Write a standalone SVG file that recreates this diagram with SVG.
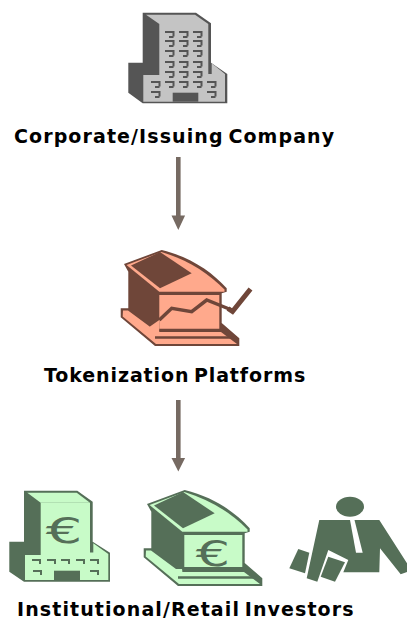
<svg xmlns="http://www.w3.org/2000/svg" width="407" height="620" viewBox="0 0 407 620">
<style>
.lb{font-family:"DejaVu Sans",Verdana,sans-serif;font-weight:700;font-size:19px;fill:#000;letter-spacing:1.1px;word-spacing:-3px}
.eu{font-family:"DejaVu Sans",sans-serif;font-weight:400;font-size:36px;fill:#556f58;text-anchor:middle}
.win{fill:none;stroke:#555;stroke-width:2}
.wg{fill:none;stroke:#556f58;stroke-width:2}
.ar{fill:#766a62}
.gd{fill:#556f58}.gl{fill:#c8fbc8}
.rd{fill:#6f4639}.rl{fill:#ffa98c}
.sd{fill:#555}.sl{fill:#c4c4c4}
</style>
<defs>
<path id="w" class="win" d="M0 0h8.500v4.500M4 5h4.500"/>
<path id="g" class="wg" d="M0 0h8v4"/>
<path id="house" d="M161.700 250C190 257 211 271 226.700 288.300V291.700L221.700 293.300V323L239.300 338.300V346H155L120.700 317.300V308.300H128.300V271.700L124 264z"/>
<path id="roof" d="M126.500 265L161.500 252C188 260 208 273 224.500 289.500V291.700H159.300z"/>
<path id="roofdark" d="M131 265.500L160 252L191.700 273.300L160 288.300z"/>
<path id="wall" d="M159.300 295H219.300V329.500H159.300z"/>
<path id="basetop" d="M123 310.500H128L153 329H159.300V332H221L237 344H156L122.700 316.500z"/>
<path id="baseline" d="M155 337.500H237" fill="none" stroke-width="2.500"/>
</defs>
<g id="connectors">
<path class="ar" d="M176 157h4.600v58.500h4.500l-6.800 14.500-6.800-14.500h4.500z"/>
<path class="ar" d="M176 400h4.600v58h4.500l-6.800 13.500-6.800-13.500h4.500z"/>
</g>
<g id="corporate">
<path class="sd" d="M142.700 12.700H196L211 23.300V62.700L227.300 74V103.300H142.700L128.300 92.700V62.700H142.700z"/>
<path class="sl" d="M146 14.700H195L208.300 24H159.300z"/>
<path class="sl" d="M159.300 24H208.300V74H211.700V63.300L225 74V101.700H143.300V75H159.300z"/>
<path class="sd" d="M172.700 92.700H198.300V101.700H172.700z"/>
<g>
<use href="#w" x="165" y="32"/><use href="#w" x="179" y="32"/><use href="#w" x="193" y="32"/>
<use href="#w" x="165" y="41"/><use href="#w" x="179" y="41"/><use href="#w" x="193" y="41"/>
<use href="#w" x="165" y="51"/><use href="#w" x="179" y="51"/><use href="#w" x="193" y="51"/>
<use href="#w" x="165" y="62"/><use href="#w" x="179" y="62"/><use href="#w" x="193" y="62"/>
<use href="#w" x="165" y="72"/><use href="#w" x="179" y="72"/><use href="#w" x="193" y="72"/>
<use href="#w" x="151" y="82"/><use href="#w" x="165" y="82"/><use href="#w" x="179" y="82"/><use href="#w" x="193" y="82"/><use href="#w" x="207" y="82"/>
<use href="#w" x="151" y="92"/><use href="#w" x="207" y="92"/>
</g>
<text class="lb" x="14" y="143">Corporate/Issuing Company</text>
</g>
<g id="platforms">
<use href="#house" class="rd"/>
<use href="#roof" class="rl"/>
<use href="#roofdark" class="rd"/>
<use href="#wall" class="rl"/>
<use href="#basetop" class="rl"/>
<use href="#baseline" stroke="#6f4639"/>
<path class="rl" d="M150 326.500L159.300 320V330H150z"/>
<path fill="none" stroke="#6f4639" stroke-width="2.500" d="M159.300 330H221"/>
<path fill="none" stroke="#6f4639" stroke-width="3.500" d="M159.300 320L171.700 308.300L191.700 311.700L206.700 300L231.700 310"/>
<path fill="none" stroke="#6f4639" stroke-width="5" d="M228 308.500L232.500 311.500L250.500 289"/>
<text class="lb" x="44" y="382" style="letter-spacing:.9px">Tokenization Platforms</text>
</g>
<g id="investors">
<g id="investor-office">
<path class="gd" d="M24 490.700H77.300L92.700 501.700V541.700L110 552.700V581.700H24L9.300 571.700V541.700H24z"/>
<path class="gl" d="M27.300 492.700H76.700L90 502.700H40.700z"/>
<path class="gl" d="M40.700 502.700H90V552.500H93.300V543.300L108.300 554V580H25V555H40.700z"/>
<path class="gd" d="M54 570.700H80V580H54z"/>
<text class="eu" transform="translate(64 542.700) scale(1.6 1)">€</text>
<g>
<use href="#g" x="32" y="560"/><use href="#g" x="47" y="560"/><use href="#g" x="61" y="560"/><use href="#g" x="76" y="560"/><use href="#g" x="90" y="560"/>
<use href="#g" x="33" y="571"/><use href="#g" x="90" y="571"/>
</g>
</g>
<g id="investor-bank" transform="translate(23 240)">
<use href="#house" class="gd"/>
<use href="#roof" class="gl"/>
<use href="#roofdark" class="gd"/>
<path class="gl" d="M161.300 295H219.300V327H161.300z"/>
<use href="#basetop" class="gl"/>
<use href="#baseline" stroke="#556f58"/>
<path fill="none" stroke="#556f58" stroke-width="2.500" d="M159.300 329H221"/>
<text class="eu" transform="translate(190 326) scale(1.5 1)">€</text>
</g>
<g id="investor-person">
<ellipse class="gd" cx="350" cy="506.700" rx="14" ry="10"/>
<path class="gd" d="M319.300 520H379.300L407 563.300V572L400.700 574.300L380 548.300L379.300 572.300H343.300L348.300 560L328.300 550L317.300 581.700L306.700 578.300z"/>
<path fill="#fff" d="M350 520H354.500L362.700 552.700H356z"/>
<path class="gd" d="M298.300 549L309.300 552.700L305 573.300L289.300 568.300z"/>
<path class="gd" d="M328.300 556.700L345 562.300L335 581.700L320.700 576.700z"/>
</g>
<text class="lb" x="17" y="615.500">Institutional/Retail Investors</text>
</g>
</svg>
